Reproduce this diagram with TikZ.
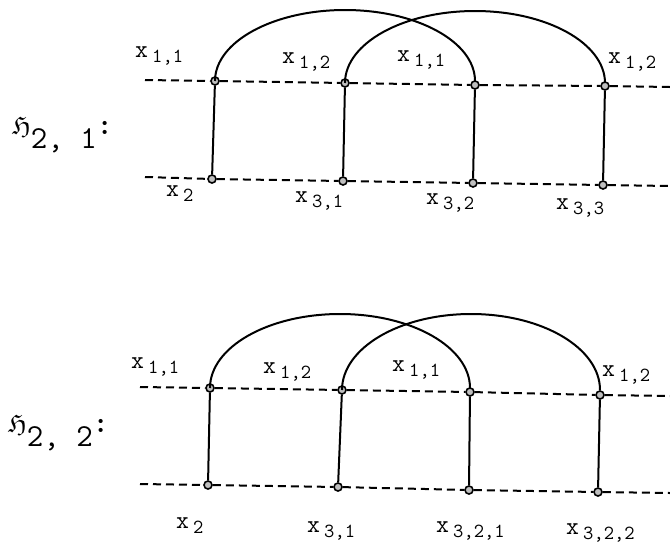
\documentclass[tikz,border=0pt]{standalone}
\usepackage{amsfonts}
\begin{document}
\begin{tikzpicture}[x=1pt,y=-1pt,
  dot/.style={circle,draw,line width=1.6pt,fill=gray!50,inner sep=0pt,minimum size=8pt},
  dline/.style={dashed,dash pattern=on 8pt off 5pt,line width=2pt},
  sline/.style={line width=2pt},
  lab/.style={inner sep=0pt,anchor=base west,font=\fontsize{25}{25}\ttfamily},
  glab/.style={inner sep=0pt,anchor=base west,font=\fontsize{32}{32}\ttfamily}]
\useasboundingbox (0,0) rectangle (670,542);
\newcommand{\xl}[1]{x\,\raisebox{-5pt}{\fontsize{20}{20}\selectfont #1}}
\newcommand{\glyphH}{\raisebox{14pt}{\fontsize{26}{26}\selectfont$\mathfrak{H}$}}
\newcommand{\colonR}{\raisebox{14pt}{\fontsize{30}{30}\selectfont\bfseries :}}
% ---------- top diagram ----------
\node[dot] (a1) at (215,81) {};
\node[dot] (a2) at (345,83) {};
\node[dot] (a3) at (475,85) {};
\node[dot] (a4) at (605,86) {};
\node[dot] (b1) at (212,179) {};
\node[dot] (b2) at (343,181) {};
\node[dot] (b3) at (473,183) {};
\node[dot] (b4) at (603,185) {};
\coordinate (al) at (145,80);
\coordinate (ar) at (670,87);
\coordinate (bl) at (145,177);
\coordinate (br) at (670,186);
\draw[dline] (al) -- (a1) -- (a2) -- (a3) -- (a4) -- (ar);
\draw[dline] (bl) -- (b1) -- (b2) -- (b3) -- (b4) -- (br);
\draw[sline] (a1) -- (b1) (a2) -- (b2) (a3) -- (b3) (a4) -- (b4);
\draw[sline] (a1.center) arc[start angle=180,end angle=360,x radius=130,y radius=71];
\draw[sline] (a2.center) arc[start angle=180,end angle=360,x radius=130,y radius=72];
\node[lab] (t1) at (135,57) {\xl{1,1}};
\node[lab] (t2) at (282,63) {\xl{1,2}};
\node[lab] (t3) at (397,61) {\xl{1,1}};
\node[lab] (t4) at (608,63) {\xl{1,2}};
\node[lab] (u1) at (166,196) {\xl{2}};
\node[lab] (u2) at (295,202) {\xl{3,1}};
\node[lab] (u3) at (426,204) {\xl{3,2}};
\node[lab] (u4) at (556,209) {\xl{3,3}};
\node[glab] (h1) at (12,148) {\glyphH 2, 1\colonR};
% ---------- bottom diagram ----------
\node[dot] (c1) at (210,388) {};
\node[dot] (c2) at (342,390) {};
\node[dot] (c3) at (470,392) {};
\node[dot] (c4) at (600,395) {};
\node[dot] (d1) at (208,485) {};
\node[dot] (d2) at (338,487) {};
\node[dot] (d3) at (469,490) {};
\node[dot] (d4) at (598,492) {};
\coordinate (cl) at (140,387);
\coordinate (cr) at (670,396);
\coordinate (dl) at (140,484);
\coordinate (dr) at (670,493);
\draw[dline] (cl) -- (c1) -- (c2) -- (c3) -- (c4) -- (cr);
\draw[dline] (dl) -- (d1) -- (d2) -- (d3) -- (d4) -- (dr);
\draw[sline] (c1) -- (d1) (c2) -- (d2) (c3) -- (d3) (c4) -- (d4);
\draw[sline] (c1.center) arc[start angle=180,end angle=360,x radius=130,y radius=74];
\draw[sline] (c2.center) arc[start angle=180,end angle=360,x radius=129,y radius=76];
\node[lab] (v1) at (131,368) {\xl{1,1}};
\node[lab] (v2) at (263,373) {\xl{1,2}};
\node[lab] (v3) at (392,371) {\xl{1,1}};
\node[lab] (v4) at (602,376) {\xl{1,2}};
\node[lab] (w1) at (176,528) {\xl{2}};
\node[lab] (w2) at (307,532) {\xl{3,1}};
\node[lab] (w3) at (436,532) {\xl{3,2,1}};
\node[lab] (w4) at (566,534) {\xl{3,2,2}};
\node[glab] (h2) at (8,446) {\glyphH 2, 2\colonR};
\end{tikzpicture}
\end{document}
